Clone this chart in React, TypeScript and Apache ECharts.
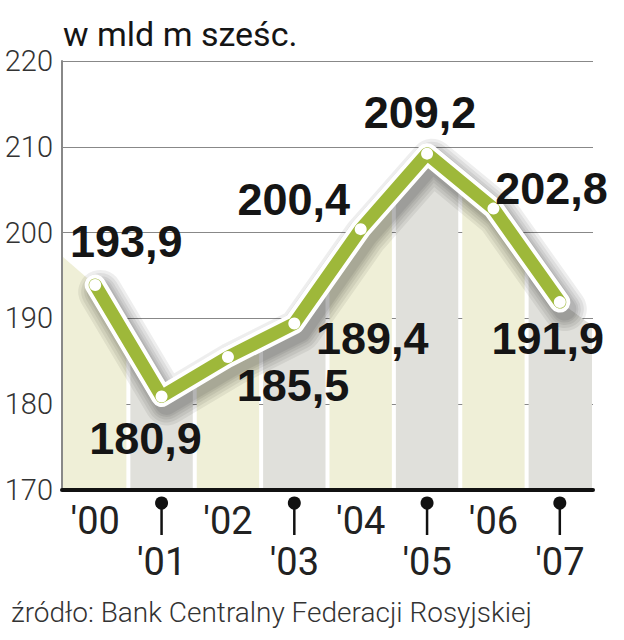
import React, { useEffect, useRef } from "react";
import * as echarts from "echarts";

const years = ["'00", "'01", "'02", "'03", "'04", "'05", "'06", "'07"];
const values = [193.9, 180.9, 185.5, 189.4, 200.4, 209.2, 202.8, 191.9];
const yMin = 170;
const yMax = 220;
const yStep = 10;
const title = "w mld m sześc.";
const source = "źródło: Bank Centralny Federacji Rosyjskiej";
const labelOffsets = [
  [31, -43],
  [-16, 42],
  [65, 28],
  [78, 15],
  [-67, -30],
  [-7, -41],
  [58, -20],
  [-12, 36],
];

const GREEN = "#9eb83a";
const YELLOW = "#efefd7";
const GREY = "#e0e0db";

export default function App() {
  const ref = useRef<HTMLDivElement>(null);
  useEffect(() => {
    if (!ref.current) return;
    const chart = echarts.init(ref.current, undefined, { renderer: "svg" });
    const n = values.length;
    const edgeVal = (i: number, side: number) => {
      const j = i + side;
      if (j < 0 || j >= n) {
        const k = i - side;
        return values[i] + 0.25 * (values[i] - values[k]);
      }
      return (values[i] + values[j]) / 2;
    };
    const labelFont = { fontFamily: "Roboto", fontWeight: 400, fontSize: 38, color: "#222", lineHeight: 34 };
    const option: any = {
      animation: false,
      backgroundColor: "#ffffff",
      grid: { left: 62, right: 31, top: 61, bottom: 150, containLabel: false },
      xAxis: {
        type: "category",
        data: years,
        boundaryGap: true,
        axisTick: { show: false },
        axisLine: { lineStyle: { color: "#111", width: 4 } },
        axisLabel: {
          interval: 0,
          hideOverlap: false,
          margin: 14,
          ...labelFont,
          formatter: (v: string, idx: number) =>
            idx % 2 ? `{o|${v}}` : `{e|${v}}`,
          rich: {
            e: { ...labelFont },
            o: { ...labelFont, padding: [82, 0, 0, 0] },
          },
        },
        splitLine: { show: false },
        z: 10,
      },
      yAxis: {
        type: "value",
        min: yMin,
        max: yMax,
        interval: yStep,
        axisLine: { show: true, lineStyle: { color: "#888", width: 2 } },
        axisTick: { show: false },
        axisLabel: {
          margin: 9,
          fontFamily: "Roboto",
          fontWeight: 300,
          fontSize: 29,
          color: "#333",
        },
        splitLine: { show: true, lineStyle: { color: "#888", width: 1 } },
      },
      graphic: [
        {
          type: "text",
          left: 63,
          top: 17,
          style: {
            text: title,
            fontFamily: "Roboto",
            fontSize: 34,
            fill: "#151515",
          },
        },
        {
          type: "text",
          left: 11,
          top: 598,
          style: {
            text: source,
            fontFamily: "Roboto",
            fontWeight: 300,
            fontSize: 28,
            fill: "#333",
          },
        },
      ],
      series: [
        {
          type: "custom",
          z: 1,
          silent: true,
          data: values.map((v, i) => [i, v]),
          renderItem: (params: any, api: any) => {
            const i = api.value(0);
            const c = api.coord([i, values[i]]);
            const w = api.size([1, 0])[0];
            const yl = api.coord([i, edgeVal(i, -1)])[1];
            const yr = api.coord([i, edgeVal(i, 1)])[1];
            const yb = api.coord([i, yMin])[1];
            const xl = c[0] - w / 2 + (i === 0 ? 1 : 2);
            const xr = c[0] + w / 2 - (i === n - 1 ? 1 : 2);
            return {
              type: "polygon",
              shape: {
                points: [
                  [xl, yl],
                  [c[0], c[1]],
                  [xr, yr],
                  [xr, yb],
                  [xl, yb],
                ],
              },
              style: { fill: i % 2 ? GREY : YELLOW },
            };
          },
        },
        {
          type: "custom",
          z: 2,
          silent: true,
          data: [[0, values[0]]],
          renderItem: (params: any, api: any) => {
            const pts = values.map((v, i) => {
              const p = api.coord([i, v]);
              return [p[0] + 5, p[1] + 7];
            });
            const widths = [44, 38, 32, 27, 23];
            return {
              type: "group",
              children: widths.map((lw) => ({
                type: "polyline",
                shape: { points: pts },
                style: {
                  stroke: "rgba(0,0,0,0.065)",
                  lineWidth: lw,
                  lineCap: "round",
                  lineJoin: "round",
                  fill: null,
                },
              })),
            };
          },
        },
        {
          type: "custom",
          z: 5,
          silent: true,
          clip: false,
          data: years.map((y, i) => [i, yMin]).filter((d) => d[0] % 2 === 1),
          renderItem: (params: any, api: any) => {
            const p = api.coord([api.value(0), yMin]);
            return {
              type: "group",
              children: [
                {
                  type: "line",
                  shape: { x1: p[0], y1: p[1] + 13, x2: p[0], y2: p[1] + 45 },
                  style: { stroke: "#111", lineWidth: 2.5 },
                },
                {
                  type: "circle",
                  shape: { cx: p[0], cy: p[1] + 13, r: 6.5 },
                  style: { fill: "#111" },
                },
              ],
            };
          },
        },
        {
          type: "line",
          z: 3,
          data: values,
          symbol: "none",
          silent: true,
          lineStyle: {
            color: "#ffffff",
            width: 21,
            cap: "round",
            join: "round",
          },
        },
        {
          type: "line",
          z: 4,
          data: values.map((v, i) => ({
            value: v,
            label: { offset: labelOffsets[i] },
          })),
          symbol: "circle",
          symbolSize: 12,
          itemStyle: { color: "#ffffff", borderWidth: 0 },
          lineStyle: { color: GREEN, width: 13, cap: "round", join: "round" },
          label: {
            show: true,
            position: "inside",
            align: "center",
            verticalAlign: "middle",
            fontFamily: "Liberation Sans",
            fontWeight: "bold",
            fontSize: 45,
            color: "#151515",
            formatter: (p: any) => String(p.value).replace(".", ","),
          },
        },
      ],
    };
    chart.setOption(option);
    return () => chart.dispose();
  }, []);
  return (
    <div
      ref={ref}
      style={{ position: "fixed", left: 0, top: 0, width: 624, height: 640 }}
    />
  );
}
